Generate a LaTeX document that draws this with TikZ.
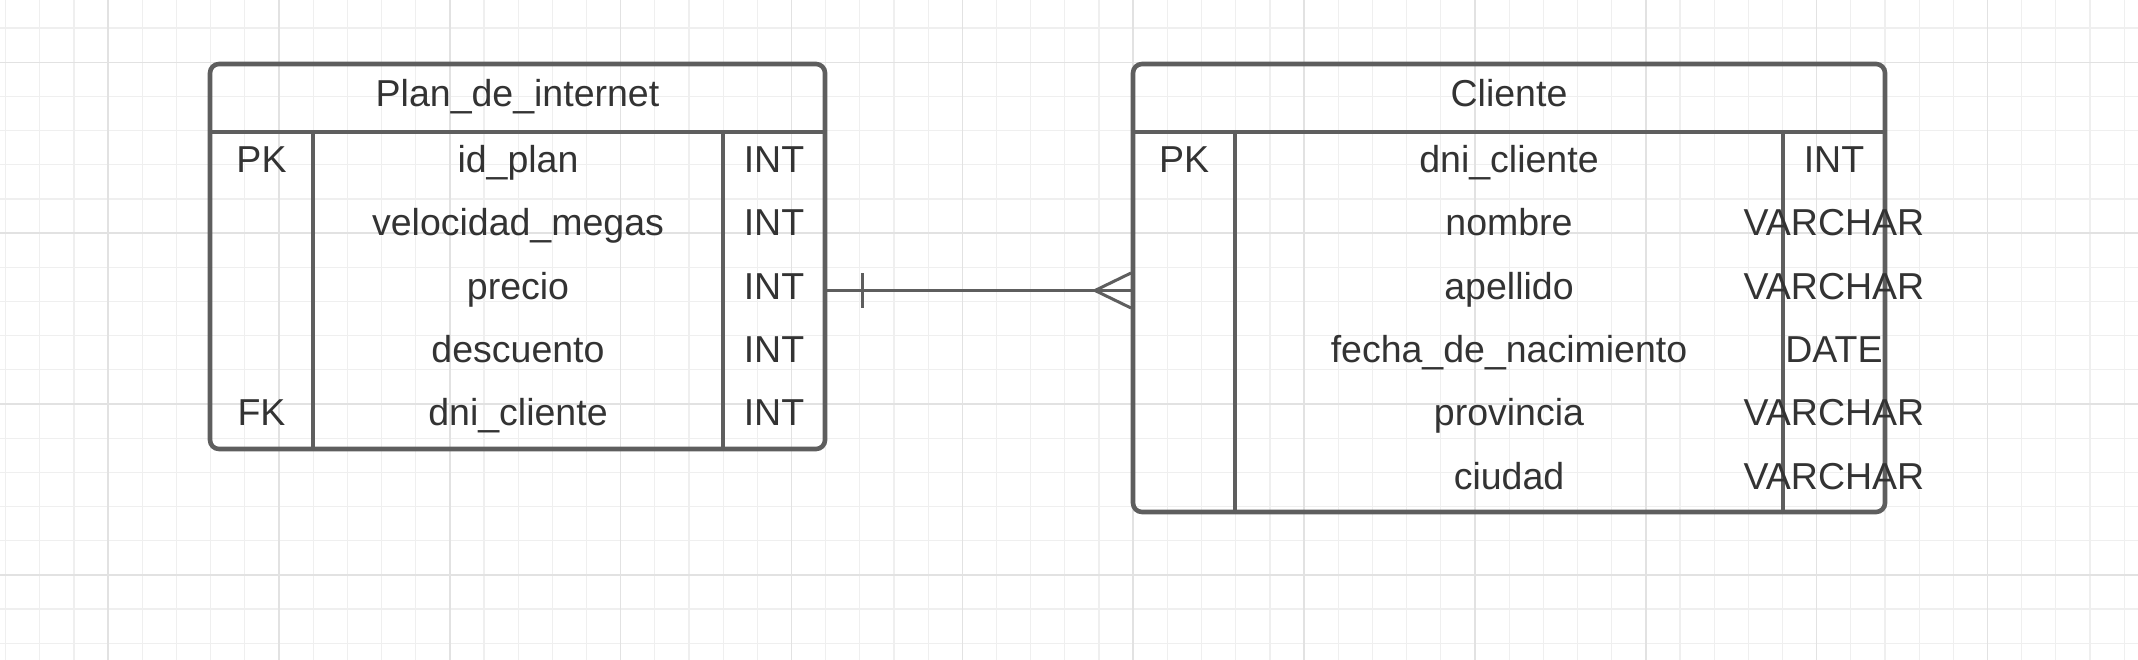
\documentclass[tikz,border=0pt]{standalone}
\usepackage{fontspec}
\setmainfont{Liberation Sans}
\definecolor{ln}{HTML}{5E5E5E}
\definecolor{tx}{HTML}{333333}
\definecolor{gmin}{HTML}{EFEFEF}
\definecolor{gmaj}{HTML}{E2E2E2}
\tikzset{
  tbl/.style={draw=ln, line width=4.6pt, rounded corners=9pt, fill=none, inner sep=0pt, outer sep=0pt},
  tline/.style={draw=ln, line width=4.6pt},
  conn/.style={draw=ln, line width=3pt},
  cell/.style={anchor=base, text=tx, font=\fontsize{37.5}{45}\selectfont, inner sep=0pt},
  gminor/.style={draw=gmin, line width=1.2pt},
  gmajor/.style={draw=gmaj, line width=1.5pt}
}
\begin{document}
\begin{tikzpicture}[x=1pt,y=-1pt]
\useasboundingbox (0,0) rectangle (2138,660);
\fill[white] (0,0) rectangle (2138,660);
% grid
\foreach \i in {0,...,62} \draw[gminor] ({5.6+34.17*\i},0) -- ({5.6+34.17*\i},660);
\foreach \j in {-1,...,18} \draw[gminor] (0,{28.1+34.17*\j}) -- (2138,{28.1+34.17*\j});
\foreach \i in {0,...,11} \draw[gmajor] ({108.1+170.85*\i},0) -- ({108.1+170.85*\i},660);
\foreach \j in {0,...,3} \draw[gmajor] (0,{62.3+170.85*\j}) -- (2138,{62.3+170.85*\j});

% ---------- Plan_de_internet ----------
\node[tbl, minimum width=615, minimum height=385] (plan) at (517.5,256.5) {};
\coordinate (hp) at (0,132);
\coordinate (pk1) at (313,0);
\coordinate (pt1) at (723,0);
\draw[tline] (plan.west |- hp) -- (plan.east |- hp);
\draw[tline] (pk1 |- hp) -- (pk1 |- plan.south);
\draw[tline] (pt1 |- hp) -- (pt1 |- plan.south);

\node[cell] (planh) at (517.5,106.7) {Plan\_de\_internet};
\node[cell] (p1k) at (261.5,172.5) {PK};
\node[cell] (p1n) at (518,172.5) {id\_plan};
\node[cell] (p1t) at (774,172.5) {INT};
\node[cell] (p2n) at (518,235.8) {velocidad\_megas};
\node[cell] (p2t) at (774,235.8) {INT};
\node[cell] (p3n) at (518,299.2) {precio};
\node[cell] (p3t) at (774,299.2) {INT};
\node[cell] (p4n) at (518,362.5) {descuento};
\node[cell] (p4t) at (774,362.5) {INT};
\node[cell] (p5k) at (261.5,425.8) {FK};
\node[cell] (p5n) at (518,425.8) {dni\_cliente};
\node[cell] (p5t) at (774,425.8) {INT};

% ---------- Cliente ----------
\node[tbl, minimum width=752, minimum height=448] (cli) at (1509,288) {};
\coordinate (ck1) at (1235,0);
\coordinate (ct1) at (1783,0);
\draw[tline] (cli.west |- hp) -- (cli.east |- hp);
\draw[tline] (ck1 |- hp) -- (ck1 |- cli.south);
\draw[tline] (ct1 |- hp) -- (ct1 |- cli.south);

\node[cell] (clih) at (1509,106.7) {Cliente};
\node[cell] (c1k) at (1184,172.5) {PK};
\node[cell] (c1n) at (1509,172.5) {dni\_cliente};
\node[cell] (c1t) at (1834,172.5) {INT};
\node[cell] (c2n) at (1509,235.8) {nombre};
\node[cell] (c2t) at (1834,235.8) {VARCHAR};
\node[cell] (c3n) at (1509,299.2) {apellido};
\node[cell] (c3t) at (1834,299.2) {VARCHAR};
\node[cell] (c4n) at (1509,362.5) {fecha\_de\_nacimiento};
\node[cell] (c4t) at (1834,362.5) {DATE};
\node[cell] (c5n) at (1509,425.8) {provincia};
\node[cell] (c5t) at (1834,425.8) {VARCHAR};
\node[cell] (c6n) at (1509,489.2) {ciudad};
\node[cell] (c6t) at (1834,489.2) {VARCHAR};

% ---------- relationship ----------
\coordinate (r3) at (0,290.5);
\draw[conn] (plan.east |- r3) -- (cli.west |- r3);
\draw[conn] ([xshift=37pt]plan.east |- r3) ++(0,-17) -- ++(0,34);
\draw[conn] ([xshift=-2pt]cli.west |- r3) ++(0,-17.5) -- ++(-36,17.5) -- ++(36,17.5);
\end{tikzpicture}
\end{document}
